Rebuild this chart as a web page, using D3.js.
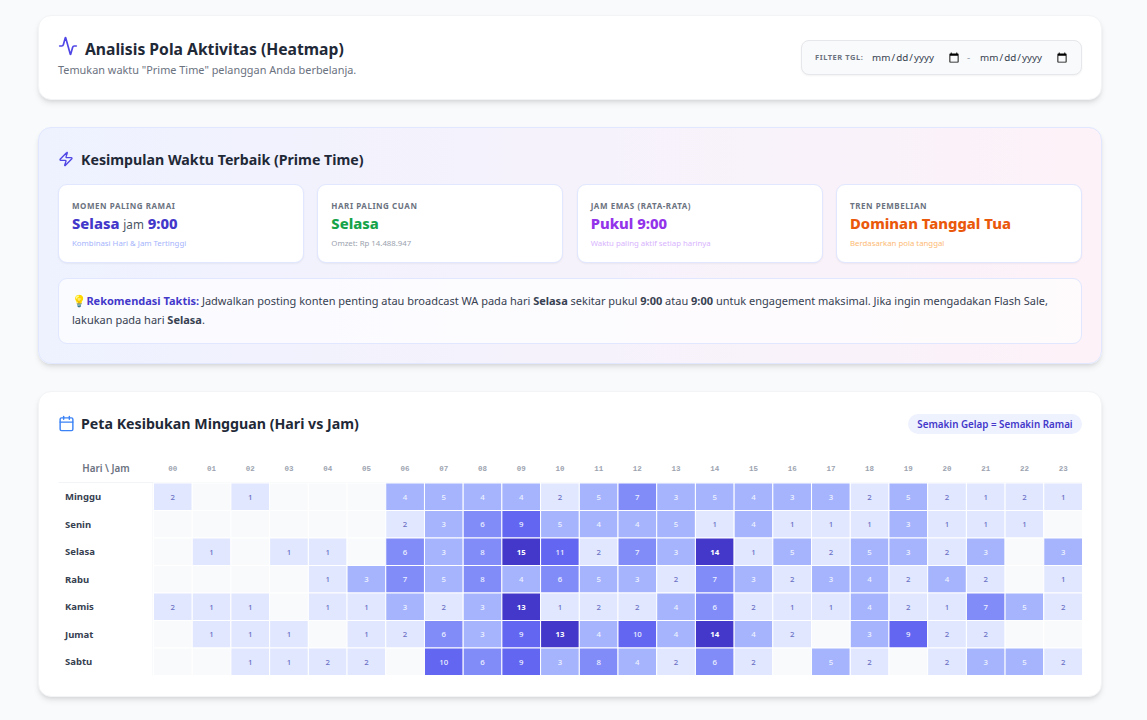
<!DOCTYPE html>
<html lang="id">
<head>
<meta charset="UTF-8" />
<title>Analisis Pola Aktivitas (Heatmap)</title>
<script src="https://d3js.org/d3.v7.min.js"></script>
<style>
  * { box-sizing: border-box; }
  html, body { margin: 0; height: 720px; overflow: hidden; }
  body { background: #f8fafc; font-family: "Noto Sans", sans-serif; color: #1f2937; position: relative; }
  .card { position: absolute; left: 37.5px; width: 1064.5px; background: #fff; border: 1px solid #f3f4f6; border-radius: 13px; box-shadow: 0 4px 6px -1px rgba(0,0,0,.1), 0 2px 4px -2px rgba(0,0,0,.1); }
  #head { top: 15px; height: 85px; }
  #prime { top: 127px; height: 237px; background: linear-gradient(to right, #eef2ff, #fdf2f8); border-color: #e0e7ff; }
  #map { top: 391px; height: 306px; }
  h1, h2 { margin: 0; position: absolute; font-weight: 700; color: #1f2937; }
  h1 { left: 46.5px; top: 21px; font-size: 15.7px; line-height: 24px; }
  h2 { font-size: 14.2px; line-height: 20px; left: 42.5px; }
  .icon { position: absolute; fill: none; stroke-width: 2; stroke-linecap: round; stroke-linejoin: round; }
  .sub { position: absolute; left: 19.5px; top: 45px; font-size: 10.9px; line-height: 18px; color: #6b7280; }
  .filter { position: absolute; left: 762.5px; top: 24px; width: 281px; height: 35px; background: #f9fafb; border: 1px solid #e5e7eb; border-radius: 8px; box-shadow: 0 1px 2px rgba(0,0,0,.05); }
  .filter span { position: absolute; top: 0; line-height: 33px; }
  .filter b { position: absolute; left: 13px; top: 0; line-height: 33px; font-size: 7.5px; letter-spacing: .55px; color: #6b7280; }
  .filter input { position: absolute; top: 6px; width: 89px; height: 21px; border: 0; background: transparent; padding: 0; font: 9.8px "Noto Sans", sans-serif; letter-spacing: .05px; color: #374151; }
  .filter input::-webkit-calendar-picker-indicator { margin: 0; padding: 0; width: 12px; height: 12px; }
  .stat { position: absolute; top: 56px; width: 246px; height: 79px; background: #fff; border: 1px solid #e0e7ff; border-radius: 9px; box-shadow: 0 1px 2px rgba(0,0,0,.05); }
  .stat .lab { position: absolute; left: 13px; top: 15px; font-size: 8px; line-height: 11px; font-weight: 700; letter-spacing: .55px; color: #6b7280; }
  .stat .val { position: absolute; left: 13px; top: 27px; font-size: 14.8px; line-height: 22px; font-weight: 800; white-space: nowrap; }
  .stat .val i { font-style: normal; font-weight: 400; font-size: 11.7px; color: #4b5563; }
  .stat .note { position: absolute; left: 13px; top: 52px; font-size: 7.8px; line-height: 12px; }
  .tip { position: absolute; left: 19.5px; top: 150px; width: 1024px; height: 66px; background: rgba(255,255,255,.7); border: 1px solid #e0e7ff; border-radius: 9px; padding: 11.5px 13px; font-size: 11px; line-height: 19px; color: #374151; }
  .tip strong { color: #374151; font-weight: 700; }
  .tip .t { color: #4338ca; }
  .tip .bulb { font-size: 11.5px; margin-right: -2.5px; }
  .pill { position: absolute; left: 869.5px; top: 22px; width: 174px; height: 20px; line-height: 21px; border-radius: 10px; background: #eef2ff; color: #4338ca; font-size: 9.8px; font-weight: 600; text-align: center; }
  #chart { position: absolute; left: 0; top: 0; }
  #chart text { font-family: "Noto Sans", sans-serif; }
</style>
</head>
<body>
<div class="card" id="head">
  <svg class="icon" style="left:19.5px;top:20px;stroke:#4f46e5" width="20" height="20" viewBox="0 0 24 24"><path d="M22 12h-2.48a2 2 0 0 0-1.93 1.46l-2.35 8.36a.25.25 0 0 1-.48 0L9.24 2.18a.25.25 0 0 0-.48 0l-2.35 8.36A2 2 0 0 1 4.49 12H2"/></svg>
  <h1>Analisis Pola Aktivitas (Heatmap)</h1>
  <div class="sub">Temukan waktu "Prime Time" pelanggan Anda berbelanja.</div>
  <div class="filter">
    <b>FILTER TGL:</b>
    <input type="date" style="left:69px" />
    <span style="left:165px;font-size:10px;color:#9ca3af">-</span>
    <input type="date" style="left:177px" />
  </div>
</div>

<div class="card" id="prime">
  <svg class="icon" style="left:19.5px;top:23px;stroke:#4f46e5" width="16" height="16" viewBox="0 0 24 24"><path d="M4 14a1 1 0 0 1-.78-1.63l9.9-10.2a.5.5 0 0 1 .86.46l-1.92 6.02A1 1 0 0 0 13 10h7a1 1 0 0 1 .78 1.63l-9.9 10.2a.5.5 0 0 1-.86-.46l1.92-6.02A1 1 0 0 0 11 14z"/></svg>
  <h2 style="top:22px">Kesimpulan Waktu Terbaik (Prime Time)</h2>
  <div id="stats"></div>
  <div class="tip"><span class="bulb">💡</span> <strong class="t">Rekomendasi Taktis:</strong> Jadwalkan posting konten penting atau broadcast WA pada hari <strong>Selasa</strong> sekitar pukul <strong>9:00</strong> atau <strong>9:00</strong> untuk engagement maksimal. Jika ingin mengadakan Flash Sale, lakukan pada hari <strong>Selasa</strong>.</div>
</div>

<div class="card" id="map">
  <svg id="chart" width="1063" height="304"></svg>
  <svg class="icon" style="left:19.5px;top:23px;stroke:#3b82f6" width="17" height="17" viewBox="0 0 24 24"><path d="M8 2v4"/><path d="M16 2v4"/><rect width="18" height="18" x="3" y="4" rx="2"/><path d="M3 10h18"/></svg>
  <h2 style="top:22px">Peta Kesibukan Mingguan (Hari vs Jam)</h2>
  <div class="pill">Semakin Gelap = Semakin Ramai</div>
</div>

<script>
const days = ["Minggu", "Senin", "Selasa", "Rabu", "Kamis", "Jumat", "Sabtu"];
const hours = ["00","01","02","03","04","05","06","07","08","09","10","11","12","13","14","15","16","17","18","19","20","21","22","23"];

// transaksi per jam, 0 = sel kosong
const minggu = [2,0,1,0,0,0,4,5,4,4,2,5,7,3,5,4,3,3,2,5,2,1,2,1];
const senin  = [0,0,0,0,0,0,2,3,6,9,5,4,4,5,1,4,1,1,1,3,1,1,1,0];
const selasa = [0,1,0,1,1,0,6,3,8,15,11,2,7,3,14,1,5,2,5,3,2,3,0,3];
const rabu   = [0,0,0,0,1,3,7,5,8,4,6,5,3,2,7,3,2,3,4,2,4,2,0,1];
const kamis  = [2,1,1,0,1,1,3,2,3,13,1,2,2,4,6,2,1,1,4,2,1,7,5,2];
const jumat  = [0,1,1,1,0,1,2,6,3,9,13,4,10,4,14,4,2,0,3,9,2,2,0,0];
const sabtu  = [0,0,1,1,2,2,0,10,6,9,3,8,4,2,6,2,0,5,2,0,2,3,5,2];
const rows = [minggu, senin, selasa, rabu, kamis, jumat, sabtu];

const statLabels = ["MOMEN PALING RAMAI", "HARI PALING CUAN", "JAM EMAS (RATA-RATA)", "TREN PEMBELIAN"];
const statValues = ["Selasa <i>jam</i> 9:00", "Selasa", "Pukul 9:00", "Dominan Tanggal Tua"];
const statNotes = ["Kombinasi Hari & Jam Tertinggi", "Omzet: Rp 14.488.947", "Waktu paling aktif setiap harinya", "Berdasarkan pola tanggal"];
const statColors = ["#4338ca", "#16a34a", "#9333ea", "#ea580c"];
const noteColors = ["#a5b4fc", "#9ca3af", "#d8b4fe", "#fdba74"];

// kartu ringkasan
const statX = d3.scalePoint().domain(d3.range(4)).range([19.5, 797.5]);
const stat = d3.select("#stats").selectAll(".stat").data(statLabels).join("div")
  .attr("class", "stat")
  .style("left", (d, i) => statX(i) + "px");
stat.append("div").attr("class", "lab").text(d => d);
stat.append("div").attr("class", "val").style("color", (d, i) => statColors[i]).html((d, i) => statValues[i]);
stat.append("div").attr("class", "note").style("color", (d, i) => noteColors[i]).text((d, i) => statNotes[i]);

// heatmap
const x = d3.scaleBand().domain(hours).range([114.5, 1043.5]);
const y = d3.scaleBand().domain(days).range([91, 283.5]);
const color = d3.scaleThreshold().domain([1, 3, 6, 9, 13])
  .range(["#f9fafb", "#e0e7ff", "#a5b4fc", "#818cf8", "#6366f1", "#4338ca"]);
const textColor = d3.scaleThreshold().domain([3, 13])
  .range(["#6a6fc4", "#eef2ff", "#ffffff"]);

const svg = d3.select("#chart");

svg.append("line").attr("x1", 19.5).attr("x2", 1043.5).attr("y1", 90.5).attr("y2", 90.5).attr("stroke", "#f3f4f6");
svg.append("line").attr("x1", 114).attr("x2", 114).attr("y1", 91).attr("y2", 283.5).attr("stroke", "#f3f4f6");

svg.append("text").attr("x", 67).attr("y", 80).attr("text-anchor", "middle")
  .attr("font-size", 9.8).attr("font-weight", 600).attr("fill", "#6b7280").text("Hari \\ Jam");

svg.selectAll(".hour").data(hours).join("text")
  .attr("class", "hour")
  .attr("x", d => x(d) + x.bandwidth() / 2)
  .attr("y", 79)
  .attr("text-anchor", "middle")
  .attr("font-size", 7.5)
  .attr("font-weight", 700)
  .style("font-family", "'Liberation Mono', monospace")
  .attr("fill", "#9ca3af")
  .text(d => d);

svg.selectAll(".day").data(days).join("text")
  .attr("class", "day")
  .attr("x", 26)
  .attr("y", d => y(d) + y.bandwidth() / 2 + 3.5)
  .attr("font-size", 9.5)
  .attr("font-weight", 700)
  .attr("fill", "#374151")
  .text(d => d);

const cells = rows.flatMap((r, i) => r.map((v, j) => ({ day: days[i], hour: hours[j], v })));

svg.selectAll(".cell").data(cells).join("rect")
  .attr("class", "cell")
  .attr("x", d => x(d.hour))
  .attr("y", d => y(d.day))
  .attr("width", x.bandwidth())
  .attr("height", y.bandwidth())
  .attr("fill", d => color(d.v))
  .attr("stroke", "#fff")
  .attr("stroke-width", 1);

svg.selectAll(".val").data(cells.filter(d => d.v > 0)).join("text")
  .attr("class", "val")
  .attr("x", d => x(d.hour) + x.bandwidth() / 2)
  .attr("y", d => y(d.day) + y.bandwidth() / 2 + 2.8)
  .attr("text-anchor", "middle")
  .attr("font-size", 7.8)
  .attr("font-weight", d => d.v >= 13 ? 700 : 500)
  .attr("fill", d => textColor(d.v))
  .text(d => d.v);
</script>
</body>
</html>
